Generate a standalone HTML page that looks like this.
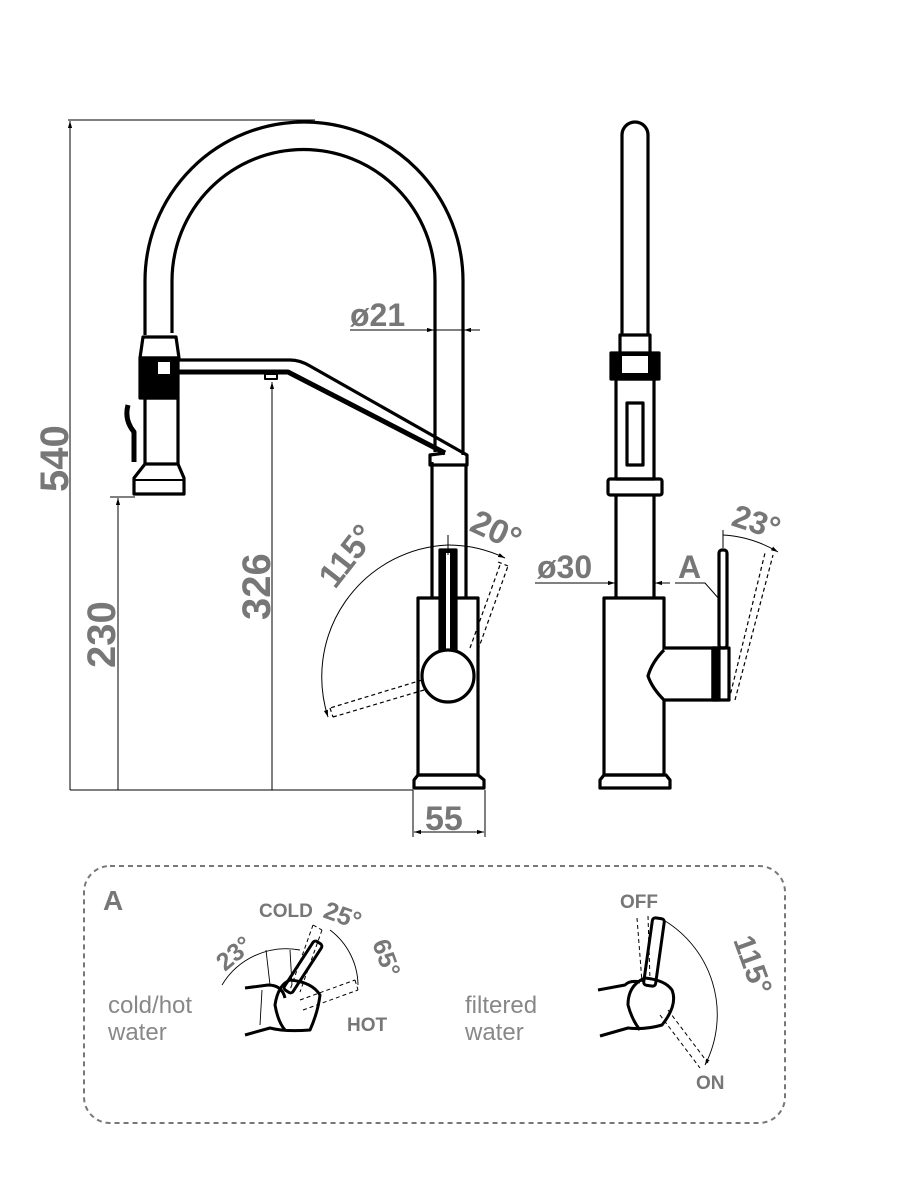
<!DOCTYPE html>
<html><head><meta charset="utf-8"><style>
html,body{margin:0;padding:0;background:#fff}
svg{display:block}
.g{fill:#777;font-family:"Liberation Sans",sans-serif;font-weight:bold}
.l{fill:#888;font-family:"Liberation Sans",sans-serif}
</style></head><body>
<svg width="900" height="1200" viewBox="0 0 900 1200" xmlns="http://www.w3.org/2000/svg">
<defs>
<marker id="a" viewBox="0 0 10 10" refX="10" refY="5" markerWidth="7" markerHeight="7" orient="auto-start-reverse"><path d="M0,2 L10,5 L0,8z" fill="#000"/></marker>
</defs>
<g fill="none" stroke="#000" stroke-width="3.2" stroke-linejoin="round">
<path d="M145,335 L145,281 A159,159 0 0 1 463,281 L463,455"/>
<path d="M172,333 L172,281 A131.5,131.5 0 0 1 435,281 L435,452"/>
<path d="M140,358 L143,337 L176,337 L179,358 Z"/>
<rect x="140" y="358" width="38" height="40" fill="#000"/>
<rect x="158" y="362" width="12" height="12" fill="#fff" stroke="none"/>
<rect x="145" y="398" width="33" height="66"/>
<path d="M145,464 L134,478 L134,494 L184,494 L184,478 L178,464"/>
<path d="M134,480 L184,480" stroke-width="2"/>
<path d="M128,405 Q124,420 134,432 L134,462" stroke-width="5"/>
<path d="M178,360 L290,360 Q300,360 310,366 L467,455 L467,465 L430,465 L430,455 L445,453"/>
<path d="M178,372 L288,372 L445,453" stroke-width="5"/>
<rect x="265" y="374" width="12" height="5" stroke-width="2"/>
<path d="M432,462 L432,598 M466,465 L466,598"/>
<rect x="418" y="598" width="60" height="177"/>
<path d="M414,788 L414,780 L418,775 L478,775 L484,780 L484,788 Z"/>
<rect x="440" y="550" width="16" height="112" fill="#000"/>
<rect x="446" y="553" width="4" height="104" fill="#fff" stroke="none"/>
<circle cx="448" cy="676" r="26" fill="#fff"/>
<path d="M622,335 L622,135 A13,13 0 0 1 648,135 L648,335"/>
<rect x="620" y="335" width="30" height="20"/>
<rect x="611" y="353" width="48" height="26" fill="#000"/>
<rect x="622" y="356" width="26" height="17" fill="#fff" stroke="none"/>
<rect x="616" y="379" width="38" height="100"/>
<rect x="627" y="403" width="16" height="62"/>
<rect x="608" y="479" width="54" height="16" rx="2"/>
<path d="M616,495 L616,598 M654,495 L654,598"/>
<rect x="604" y="598" width="60" height="177"/>
<path d="M600,788 L600,780 L604,775 L666,775 L670,780 L670,788 Z"/>
<path d="M664,648 L713,648 L713,700 L664,700 L664,700 Q652,688 648,676 Q652,662 664,650" fill="#fff"/>
<rect x="713" y="648" width="16" height="52" fill="#fff"/>
<rect x="713" y="648" width="6" height="52" fill="#000"/>
<rect x="719" y="550" width="8" height="98" rx="3"/>
</g>
<g fill="none" stroke="#000" stroke-width="1">
<path d="M68,120 L315,120 M70,790 L413,790"/>
<path d="M70,790 L70,121" marker-end="url(#a)"/>
<path d="M118,790 L118,498" marker-end="url(#a)"/>
<path d="M110,497 L135,497"/>
<path d="M272,790 L272,382" marker-end="url(#a)"/>
<path d="M350,330 L434,330" marker-end="url(#a)"/>
<path d="M480,330 L464,330" marker-end="url(#a)"/>
<path d="M435,330 L463,330"/>
<path d="M413,790 L413,837 M485,790 L485,837"/>
<path d="M448,832 L414,832" marker-end="url(#a)"/>
<path d="M448,832 L484,832" marker-end="url(#a)"/>
<path d="M535,583 L615,583" marker-end="url(#a)"/>
<path d="M670,583 L655,583" marker-end="url(#a)"/>
<path d="M675,583 L705,583 L720,600"/>
<path d="M448,545 A132,132 0 0 0 328,717" marker-end="url(#a)"/>
<path d="M448,545 A132,132 0 0 1 505,558" marker-end="url(#a)"/>
<path d="M723,535 A120,120 0 0 1 778,552" marker-end="url(#a)"/>
<path d="M723,530 L723,548 M448,535 L448,555"/>
</g>
<g fill="none" stroke="#000" stroke-width="1.2" stroke-dasharray="4,3">
<path d="M470,648 L500,565 M478,650 L508,566 M498,562 L508,566"/>
<path d="M422,680 L330,708 M424,690 L333,717 M330,708 L333,717"/>
<path d="M735,700 L773,555 M729,700 L765,553"/>
</g>
<text class="g" font-size="40" transform="translate(68,492) rotate(-90)">540</text>
<text class="g" font-size="40" transform="translate(115,668) rotate(-90)">230</text>
<text class="g" font-size="40" transform="translate(270,620) rotate(-90)">326</text>
<text class="g" font-size="32" x="350" y="326">ø21</text>
<text class="g" font-size="34" x="425" y="830">55</text>
<text class="g" font-size="34" transform="translate(335,590) rotate(-52)">115°</text>
<text class="g" font-size="34" transform="translate(468,530) rotate(25)">20°</text>
<text class="g" font-size="32" x="537" y="578">ø30</text>
<text class="g" font-size="32" x="678" y="578">A</text>
<text class="g" font-size="32" transform="translate(730,525) rotate(18)">23°</text>
<rect x="84" y="866" width="701" height="257" rx="26" fill="none" stroke="#777" stroke-width="2" stroke-dasharray="5,4"/>
<text class="g" font-size="28" x="103" y="910">A</text>
<text class="l" font-size="24" x="108" y="1013">cold/hot</text>
<text class="l" font-size="24" x="108" y="1040">water</text>
<text class="l" font-size="24" x="465" y="1013">filtered</text>
<text class="l" font-size="24" x="465" y="1040">water</text>
<text class="g" font-size="19" x="259" y="917">COLD</text>
<text class="g" font-size="19" x="347" y="1031">HOT</text>
<text class="g" font-size="19" x="620" y="908">OFF</text>
<text class="g" font-size="19" x="696" y="1089">ON</text>
<text class="g" font-size="25" transform="translate(322,917) rotate(20)">25°</text>
<text class="g" font-size="25" transform="translate(372,943) rotate(70)">65°</text>
<text class="g" font-size="25" transform="translate(225,972) rotate(-40)">23°</text>
<text class="g" font-size="30" transform="translate(733,940) rotate(70)">115°</text>
<g fill="none" stroke="#000" stroke-width="3" stroke-linejoin="round">
<path d="M245,988 L268,985 Q282,985 285,998 M245,1035 L270,1028 Q285,1032 310,1030 Q318,1012 320,995 Q312,982 290,980 Q278,985 275,1005 Q278,1022 285,1030"/>
<rect x="298" y="938" width="10" height="58" rx="3" transform="rotate(33 303 967)"/>
<path d="M598,990 L625,985 Q630,980 640,982 M600,1036 L628,1028 Q645,1030 662,1025 Q678,1005 672,990 Q665,980 645,978 Q628,985 628,1005 Q632,1020 640,1030"/>
<rect x="648" y="918" width="12" height="68" rx="3" transform="rotate(8 654 952)"/>
</g>
<g fill="none" stroke="#000" stroke-width="1" stroke-dasharray="4,3">
<path d="M313,925 L290,990 M322,930 L300,992 M313,925 L322,930"/>
<path d="M300,1000 L355,980 M303,1010 L358,990 M355,980 L358,990"/>
<path d="M637,918 L642,982 M648,916 L650,980"/>
<path d="M660,1015 L700,1068 M668,1010 L708,1063"/>
</g>
<g fill="none" stroke="#000" stroke-width="0.9">
<path d="M300,950 A75,75 0 0 0 222,985"/>
<path d="M270,985 L266,950 M260,1025 L262,990 M292,985 L290,950"/>
<path d="M330,930 A70,70 0 0 1 358,985"/>
<path d="M660,918 A110,110 0 0 1 705,1065" marker-end="url(#a)"/>
</g>
</svg>
</body></html>
